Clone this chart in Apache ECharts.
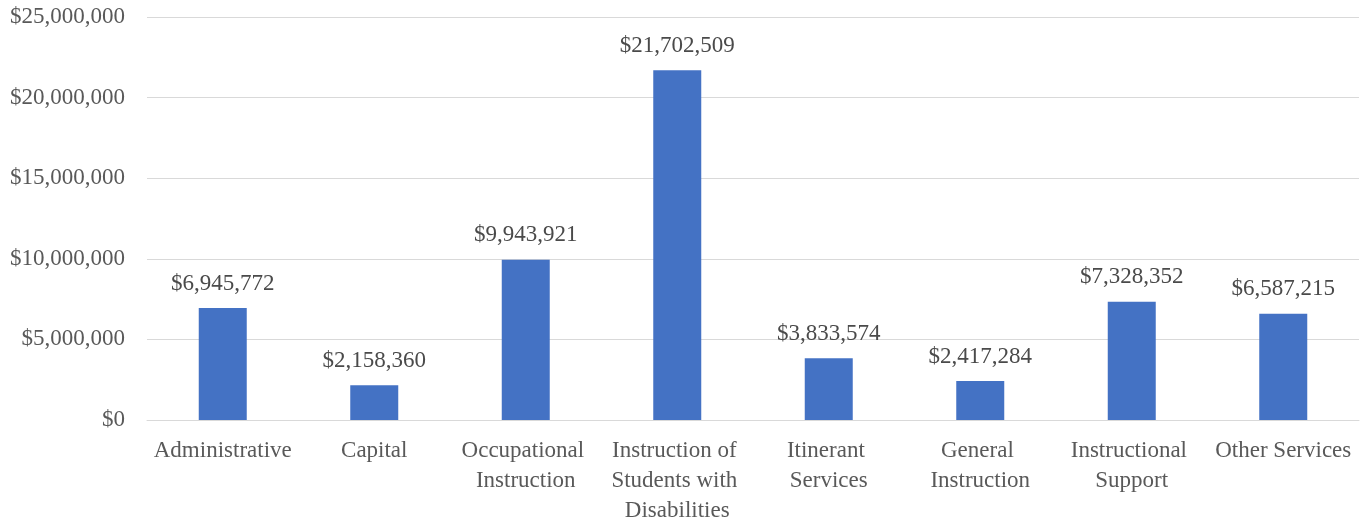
<!DOCTYPE html>
<html>
<head>
<meta charset="utf-8">
<script src="https://cdn.jsdelivr.net/npm/echarts@6/dist/echarts.min.js"></script>
<style>html,body{margin:0;padding:0;background:#fff}#c{width:1371px;height:523px}</style>
</head>
<body>
<div id="c"></div>
<script>
const categories = ["Administrative", "Capital", "Occupational Instruction", "Instruction of Students with Disabilities", "Itinerant Services", "General Instruction", "Instructional Support", "Other Services"];
const values = [6945772, 2158360, 9943921, 21702509, 3833574, 2417284, 7328352, 6587215];
const yTicks = { min: 0, max: 25000000, interval: 5000000 };

const FONT = '"Liberation Serif", "DejaVu Serif", serif';
const TXT = '#595959';
const money = v => '$' + Math.round(v).toLocaleString('en-US');

const chart = echarts.init(document.getElementById('c'), null, { renderer: 'canvas' });
chart.setOption({
  animation: false,
  grid: { left: 147, right: 12, top: 17, bottom: 103, containLabel: false, outerBoundsMode: 'none' },
  xAxis: {
    type: 'category',
    data: categories,
    axisLine: { show: true, lineStyle: { color: '#d9d9d9', width: 1 } },
    axisTick: { show: false },
    axisLabel: {
      interval: 0, color: TXT, fontFamily: FONT, fontSize: 23, lineHeight: 30,
      margin: 16, width: 150, overflow: 'break'
    }
  },
  yAxis: {
    type: 'value',
    min: yTicks.min, max: yTicks.max, interval: yTicks.interval,
    axisLine: { show: false }, axisTick: { show: false },
    splitLine: { lineStyle: { color: '#d9d9d9', width: 1 } },
    axisLabel: { color: TXT, fontFamily: FONT, fontSize: 23, margin: 22, formatter: money }
  },
  series: [{
    type: 'bar',
    data: values,
    barWidth: 48,
    itemStyle: { color: '#4472c4' },
    label: {
      show: true, position: 'top', distance: 13,
      color: '#4a4a4a', fontFamily: FONT, fontSize: 23,
      formatter: p => money(p.value)
    }
  }]
});
</script>
</body>
</html>
